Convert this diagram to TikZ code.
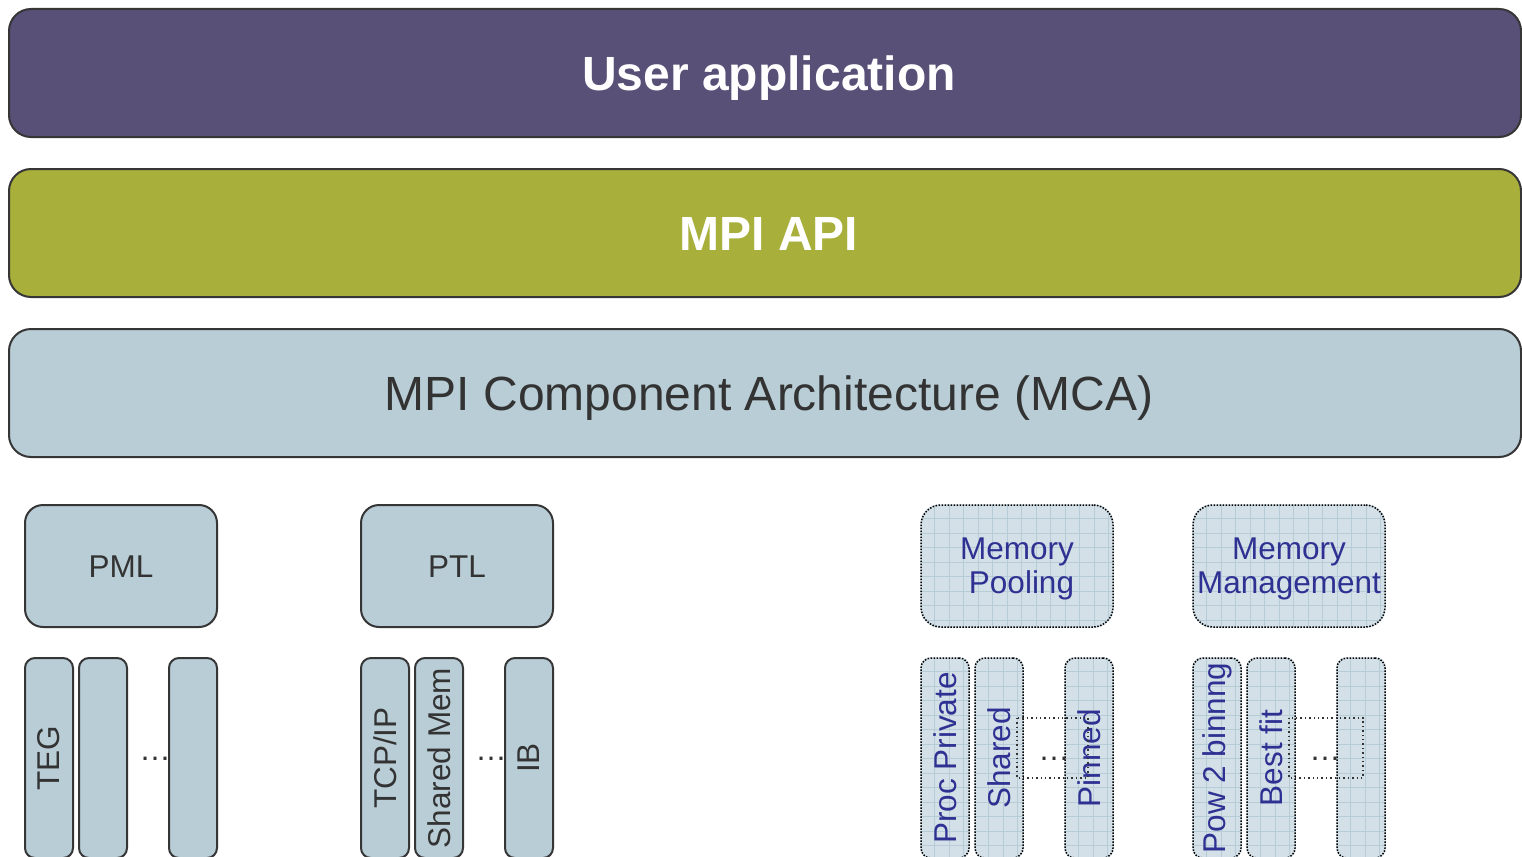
\documentclass[tikz,border=0pt]{standalone}
\usepackage{fontspec}
\setmainfont{Liberation Sans}
\usetikzlibrary{backgrounds}
\definecolor{appfill}{HTML}{595077}
\definecolor{apifill}{HTML}{A8AF3B}
\definecolor{mcafill}{HTML}{B9CDD6}
\definecolor{edgegray}{HTML}{363636}
\definecolor{textgray}{HTML}{333333}
\definecolor{memfill}{HTML}{D3E0E7}
\definecolor{gridline}{HTML}{B7CCD7}
\definecolor{memtext}{HTML}{2E3192}
% light fill with a fine square grid behind a named node
\newcommand\gridfill[2]{%
  \begin{scope}[on background layer]
    \fill[memfill, rounded corners=#2] (#1.north west) rectangle (#1.south east);
    \begin{scope}
      \clip[rounded corners=#2] (#1.north west) rectangle (#1.south east);
      \foreach \k in {1,...,14} {
        \draw[gridline, line width=0.8pt]
          ([xshift=\k*14.5pt]#1.north west) -- ([xshift=\k*14.5pt]#1.south west);
        \draw[gridline, line width=0.8pt]
          ([yshift=-\k*14.5pt]#1.north west) -- ([yshift=-\k*14.5pt]#1.north east);
      }
    \end{scope}
  \end{scope}}
\begin{document}
\begin{tikzpicture}[x=1pt,y=-1pt,
  layer/.style={draw=edgegray, line width=2pt, rounded corners=22pt,
    minimum width=1512pt, minimum height=128pt, inner sep=0pt},
  layertext/.style={text height=34.4pt, text depth=0pt, xshift=4pt},
  boldbig/.style={font=\fontsize{48}{52}\selectfont\bfseries},
  plainbig/.style={font=\fontsize{48}{52}\selectfont},
  framework/.style={draw=edgegray, line width=2pt, fill=mcafill,
    rounded corners=18pt, minimum width=192pt, minimum height=122pt,
    inner sep=0pt, font=\fontsize{31.5}{34}\selectfont, text=textgray,
    text height=22.5pt, text depth=0pt},
  component/.style={draw=edgegray, line width=2pt, fill=mcafill,
    rounded corners=10pt, minimum width=48pt, minimum height=200pt,
    inner sep=0pt, font=\fontsize{31.5}{34}\selectfont, text=textgray},
  dotframe/.style={draw=black, line width=1.5pt, dash pattern=on 1.5pt off 1.5pt},
  memframework/.style={dotframe, rounded corners=20pt,
    minimum width=192pt, minimum height=122pt, inner sep=0pt,
    font=\fontsize{31.5}{34}\selectfont, text=memtext, align=center, text depth=0pt},
  memcomponent/.style={dotframe, rounded corners=10pt,
    minimum width=48pt, minimum height=200pt, inner sep=0pt,
    font=\fontsize{31.5}{34}\selectfont, text=memtext},
  more/.style={font=\fontsize{31.5}{34}\selectfont, text=textgray,
    anchor=base, inner sep=0pt},
  spanbox/.style={draw=black!80, line width=1.3pt, dash pattern=on 1.4pt off 3pt}
]
\useasboundingbox (0,0) rectangle (1522,856);
\clip (0,0) rectangle (1522,856);

% stacked software layers
\node[layer, fill=appfill] (app) at (765,73) {};
\node[layertext, boldbig, text=white] at (app.center) (applabel) {User application};
\node[layer, fill=apifill] (api) at (765,233) {};
\node[layertext, boldbig, text=white] at (api.center) (apilabel) {MPI API};
\node[layer, fill=mcafill] (mca) at (765,393) {};
\node[layertext, plainbig, text=textgray] at (mca.center) (mcalabel) {MPI Component Architecture (MCA)};

% frameworks
\node[framework] (pml) at (121,566) {PML};
\node[framework] (ptl) at (457,566) {PTL};
\node[memframework] (pool) at (1017,566) {Memory\\\hspace*{9pt}Pooling};
\node[memframework] (mgmt) at (1289,566) {Memory\\Management};
\gridfill{pool}{20pt}
\gridfill{mgmt}{20pt}

% PML components
\node[component] (teg) at (49,758) {\rotatebox{90}{TEG}};
\node[component] (pmlb) at (103,758) {};
\node[component] (pmlc) at (193,758) {};
\node[more] (pmldots) at (155,760) {…};

% PTL components
\node[component] (tcp) at (385,758) {\rotatebox{90}{TCP/IP}};
\node[component] (sm) at (439,758) {\rotatebox{90}{Shared Mem}};
\node[component] (ib) at (529,758) {\rotatebox{90}{IB}};
\node[more] (ptldots) at (491,760) {…};

% memory pooling components
\node[memcomponent] (priv) at (945,758) {\rotatebox{90}{Proc Private}};
\node[memcomponent] (shared) at (999,758) {\rotatebox{90}{Shared}};
\node[memcomponent] (pinned) at (1089,758) {\rotatebox{90}{Pinned}};
\gridfill{priv}{10pt}
\gridfill{shared}{10pt}
\gridfill{pinned}{10pt}
\node[more] (pooldots) at (1054,760) {…};
\draw[spanbox] (1017,718) rectangle (1088,778);

% memory management components
\node[memcomponent] (pow) at (1217,758) {\rotatebox{90}{Pow 2 binnng}};
\node[memcomponent] (best) at (1271,758) {\rotatebox{90}{Best fit}};
\node[memcomponent] (mgmtc) at (1361,758) {};
\gridfill{pow}{10pt}
\gridfill{best}{10pt}
\gridfill{mgmtc}{10pt}
\node[more] (mgmtdots) at (1325,760) {…};
\draw[spanbox] (1289,718) rectangle (1363,778);
\end{tikzpicture}
\end{document}
